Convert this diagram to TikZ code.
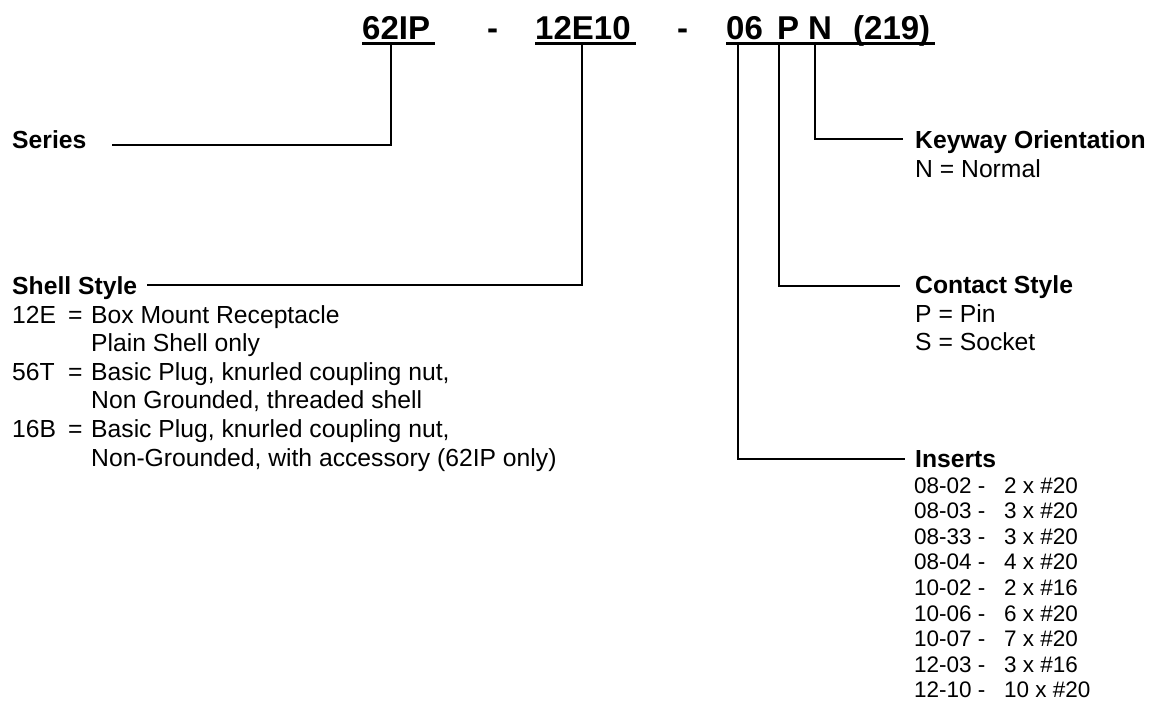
\documentclass[tikz,border=0pt]{standalone}
\usepackage{fontspec}
\setmainfont{Liberation Sans}
\begin{document}
\begin{tikzpicture}[x=1pt,y=-1pt,
  ttl/.style={font=\fontsize{33}{38}\selectfont\bfseries, inner sep=0, anchor=base west},
  head/.style={font=\fontsize{24.7}{28}\selectfont\bfseries, inner sep=0, anchor=base west},
  txt/.style={font=\fontsize{24.7}{28}\selectfont, inner sep=0, anchor=base west},
  ins/.style={font=\fontsize{22.5}{26}\selectfont, inner sep=0, anchor=base west},
  lead/.style={line width=2pt},
  uline/.style={line width=3pt}]
\useasboundingbox (0,0) rectangle (1151,705);
\fill[white] (0,0) rectangle (1151,705);
% title
\node[ttl] (t62) at (362,39) {62IP};
\node[ttl] (d1) at (487,39) {-};
\node[ttl] (t12) at (535,39) {12E10};
\node[ttl] (d2) at (677,39) {-};
\node[ttl] (t06) at (726,39) {06};
\node[ttl] (tP) at (777,39) {P};
\node[ttl] (tN) at (808,39) {N};
\node[ttl] (t219) at (853,39) {(219)};
\draw[uline] (362,43.5) -- (435,43.5);
\draw[uline] (535,43.5) -- (636,43.5);
\draw[uline] (726,43.5) -- (935,43.5);
% connector start points
\coordinate (a62) at (391,44);
\coordinate (a12) at (582,44);
\coordinate (a06) at (738,44);
\coordinate (aP) at (779,44);
\coordinate (aN) at (815,44);
% Series
\node[head] (series) at (12,148) {Series};
\coordinate (eS) at (112,145);
\draw[lead] (a62) |- (eS);
% Shell style
\node[head] (shell) at (12,294) {Shell Style};
\coordinate (eSh) at (147,285);
\draw[lead] (a12) |- (eSh);
\node[txt] (c1) at (12,323) {12E};
\node[txt] (q1) at (68,323) {=};
\node[txt] (v1) at (91,323) {Box Mount Receptacle};
\node[txt] (v1b) at (91,351.6) {Plain Shell only};
\node[txt] (c2) at (12,380.2) {56T};
\node[txt] (q2) at (68,380.2) {=};
\node[txt] (v2) at (91,380.2) {Basic Plug, knurled coupling nut,};
\node[txt] (v2b) at (91,408.8) {Non Grounded, threaded shell};
\node[txt] (c3) at (12,437.4) {16B};
\node[txt] (q3) at (68,437.4) {=};
\node[txt] (v3) at (91,437.4) {Basic Plug, knurled coupling nut,};
\node[txt] (v3b) at (91,466) {Non-Grounded, with accessory (62IP only)};
% Keyway
\node[head] (key) at (915,148) {Keyway Orientation};
\coordinate (eK) at (903,139);
\draw[lead] (aN) |- (eK);
\node[txt] (k1) at (915,177) {N = Normal};
% Contact
\node[head] (con) at (915,293) {Contact Style};
\coordinate (eC) at (900,286);
\draw[lead] (aP) |- (eC);
\node[txt] (p1) at (915,322) {P = Pin};
\node[txt] (p2) at (915,350.6) {S = Socket};
% Inserts
\node[head] (ins) at (915,467) {Inserts};
\coordinate (eI) at (905,459);
\draw[lead] (a06) |- (eI);
\foreach \a/\b [count=\i from 0] in {08-02 -/2 x \#20, 08-03 -/3 x \#20, 08-33 -/3 x \#20, 08-04 -/4 x \#20, 10-02 -/2 x \#16, 10-06 -/6 x \#20, 10-07 -/7 x \#20, 12-03 -/3 x \#16, 12-10 -/10 x \#20} {
  \node[ins] (ia\i) at (914,493+25.6*\i) {\a};
  \node[ins] (ib\i) at (1004,493+25.6*\i) {\b};
}
\end{tikzpicture}
\end{document}
